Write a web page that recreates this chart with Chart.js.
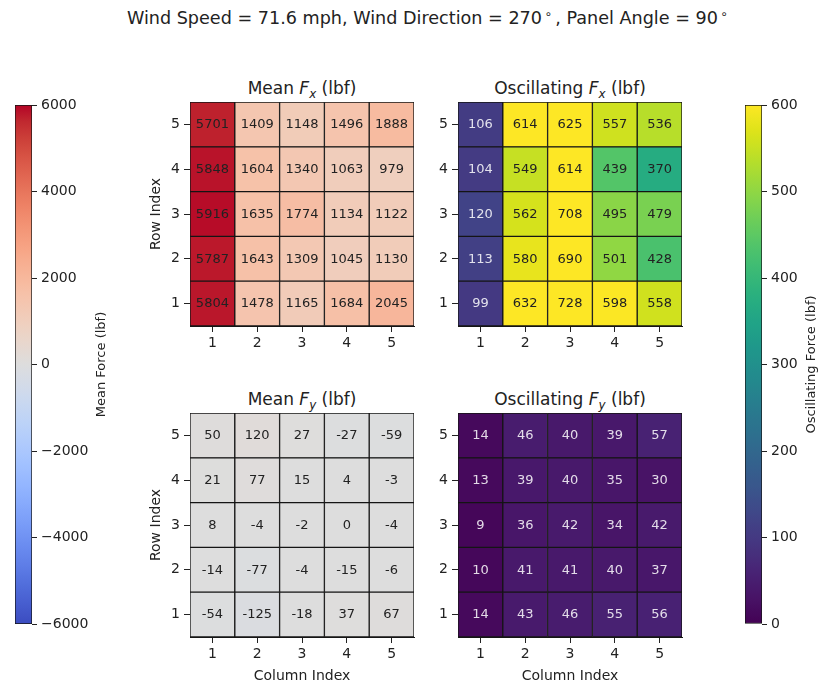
<!DOCTYPE html>
<html><head><meta charset="utf-8">
<script src="https://cdn.jsdelivr.net/npm/chart.js@4.4.1/dist/chart.umd.min.js"></script>
<style>
html,body{margin:0;padding:0;background:#fff;width:819px;height:682px;overflow:hidden;font-family:'DejaVu Sans',sans-serif;color:#222}
canvas{position:absolute}
.t{position:absolute;white-space:nowrap;transform:translateX(-50%);line-height:20px}
.it{font-style:italic}
.sub{font-size:0.7em;font-style:italic;position:relative;top:0.3em}
.sup{font-size:0.7em;position:relative;top:-0.45em;margin:0 0.25em 0 0.2em}
</style></head><body>
<div class="t" style="left:429px;top:8px;font-size:17.6px">Wind Speed = 71.6 mph, Wind Direction = 270<span class="sup">∘</span>, Panel Angle = 90<span class="sup">∘</span></div>
<div class="t" style="left:302px;top:78px;font-size:17px">Mean <span class="it">F</span><span class="sub">x</span> (lbf)</div>
<div class="t" style="left:570px;top:78px;font-size:17px">Oscillating <span class="it">F</span><span class="sub">x</span> (lbf)</div>
<div class="t" style="left:302px;top:389px;font-size:17px">Mean <span class="it">F</span><span class="sub">y</span> (lbf)</div>
<div class="t" style="left:570px;top:389px;font-size:17px">Oscillating <span class="it">F</span><span class="sub">y</span> (lbf)</div>
<script>
// ---------- data (rows listed from Row Index 1 to 5, columns 1..5) ----------
const columnLabels = ['1', '2', '3', '4', '5'];
const rowIndex = [1, 2, 3, 4, 5];
const meanFx = [
  [5804, 1478, 1165, 1684, 2045],
  [5787, 1643, 1309, 1045, 1130],
  [5916, 1635, 1774, 1134, 1122],
  [5848, 1604, 1340, 1063, 979],
  [5701, 1409, 1148, 1496, 1888]
];
const oscFx = [
  [99, 632, 728, 598, 558],
  [113, 580, 690, 501, 428],
  [120, 562, 708, 495, 479],
  [104, 549, 614, 439, 370],
  [106, 614, 625, 557, 536]
];
const meanFy = [
  [-54, -125, -18, 37, 67],
  [-14, -77, -4, -15, -6],
  [8, -4, -2, 0, -4],
  [21, 77, 15, 4, -3],
  [50, 120, 27, -27, -59]
];
const oscFy = [
  [14, 43, 46, 55, 56],
  [10, 41, 41, 40, 37],
  [9, 36, 42, 34, 42],
  [13, 39, 40, 35, 30],
  [14, 46, 40, 39, 57]
];
const meanRange = [-6000, 6000];
const meanTickStep = 2000;
const oscRange = [0, 600];
const oscTickStep = 100;

// ---------- colormaps ----------
const coolwarmStops = [
  [59,76,192],[68,90,204],[77,104,215],[87,117,225],[98,130,234],[108,142,241],[119,154,247],[130,165,251],
  [141,176,254],[152,185,255],[163,194,255],[174,201,253],[184,208,249],[194,213,244],[204,217,238],[213,219,230],
  [221,221,221],[229,216,209],[236,211,197],[241,204,185],[245,196,173],[247,187,160],[247,177,148],[247,166,135],
  [244,154,123],[241,141,111],[236,127,99],[229,112,88],[222,96,77],[213,80,66],[203,62,56],[192,40,47],[180,4,38]
];
const viridisHex = ['#440154','#481467','#482576','#453781','#404688','#39568c','#33638d','#2d708e','#287d8e','#238a8d',
  '#1f968b','#20a387','#29af7f','#3cbb75','#55c667','#73d055','#95d840','#b8de29','#dce319','#fde725'];
const viridisStops = viridisHex.map(h => [parseInt(h.slice(1,3),16), parseInt(h.slice(3,5),16), parseInt(h.slice(5,7),16)]);
function interp(stops, t) {
  t = Math.max(0, Math.min(1, t));
  const n = stops.length - 1, p = t * n;
  const i = Math.min(Math.floor(p), n - 1), f = p - i;
  const a = stops[i], b = stops[i + 1];
  return 'rgb(' + a.map((v, k) => Math.round(v + (b[k] - v) * f)).join(',') + ')';
}
const coolwarm = t => interp(coolwarmStops, t);
const viridis = t => interp(viridisStops, t);

Chart.defaults.font.family = "'DejaVu Sans', sans-serif";
Chart.defaults.color = '#222';

const TXT = '#222';
const PADT = 16;

function addCanvas(left, top, w, h) {
  const c = document.createElement('canvas');
  c.width = w; c.height = h;
  c.style.left = left + 'px'; c.style.top = top + 'px';
  c.style.width = w + 'px'; c.style.height = h + 'px';
  document.body.appendChild(c);
  return c;
}

const valueLabels = {
  id: 'valueLabels',
  afterDatasetsDraw(chart, args, opts) {
    const ctx = chart.ctx;
    ctx.save();
    ctx.font = "13px 'DejaVu Sans', sans-serif";
    ctx.textAlign = 'center';
    ctx.textBaseline = 'middle';
    chart.data.datasets.forEach((ds, di) => {
      const meta = chart.getDatasetMeta(di);
      meta.data.forEach((el, ci) => {
        const v = ds.values[ci];
        ctx.fillStyle = opts.textColor(v);
        ctx.fillText(String(v), el.x, (el.y + el.base) / 2 + 0.5);
      });
    });
    ctx.restore();
  }
};

function heatmap(L, T, values, cmap, range, textColor, showY, showX) {
  const W = 292, H = PADT + 224 + 52;
  const canvas = addCanvas(L - 60, T - PADT, W, H);
  const norm = v => (v - range[0]) / (range[1] - range[0]);
  const datasets = rowIndex.map((r, ri) => ({
    data: values[ri].map(() => [r - 0.5, r + 0.5]),
    values: values[ri],
    backgroundColor: values[ri].map(v => cmap(norm(v))),
    borderColor: '#151515',
    borderWidth: 1,
    borderSkipped: false,
    barPercentage: 1,
    categoryPercentage: 1,
    grouped: false
  }));
  new Chart(canvas, {
    type: 'bar',
    data: { labels: columnLabels, datasets },
    options: {
      responsive: false, animation: false, events: [],
      layout: { padding: { left: 0, top: PADT, right: 8, bottom: 0 } },
      plugins: { legend: { display: false }, tooltip: { enabled: false }, valueLabels: { textColor } },
      scales: {
        x: {
          type: 'category', offset: true,
          grid: { display: true, drawOnChartArea: false, drawTicks: true, tickLength: 6, tickColor: TXT, offset: false },
          border: { display: true, color: '#151515', width: 1 },
          ticks: { font: { size: 14 }, color: TXT, padding: 3 },
          title: { display: showX, text: 'Column Index', font: { size: 14 }, color: TXT, padding: { top: 0, bottom: 4 } },
          afterFit: s => { s.height = 52; }
        },
        y: {
          type: 'linear', min: 0.5, max: 5.5,
          afterBuildTicks: s => { s.ticks = rowIndex.map(v => ({ value: v })); },
          grid: { display: true, drawOnChartArea: false, drawTicks: true, tickLength: 6, tickColor: TXT },
          border: { display: true, color: '#151515', width: 1 },
          ticks: { font: { size: 14 }, color: TXT, padding: 4 },
          title: { display: showY, text: 'Row Index', font: { size: 14 }, color: TXT, padding: { top: 18, bottom: 0 } },
          afterFit: s => { s.width = 60; }
        }
      }
    },
    plugins: [valueLabels]
  });
}

const darkText = () => '#222';
const viridisText = v => (v < 300 ? 'rgba(255,255,255,0.85)' : '#222');

heatmap(190, 102, meanFx, coolwarm, meanRange, darkText, true, false);
heatmap(458, 102, oscFx, viridis, oscRange, viridisText, false, false);
heatmap(190, 413, meanFy, coolwarm, meanRange, darkText, true, true);
heatmap(458, 413, oscFy, viridis, oscRange, viridisText, false, true);

function colorbar(left, width, range, step, cmap, label, labelX) {
  const barW = 17, padL = 15, top = 105, barH = 519;
  const H = PADT + barH + PADT;
  const canvas = addCanvas(left, top - PADT, width, H);
  const cbLabel = {
    id: 'cbLabel',
    afterDraw(chart) {
      const ctx = chart.ctx, ca = chart.chartArea;
      ctx.save();
      ctx.translate(labelX, (ca.top + ca.bottom) / 2);
      ctx.rotate(-Math.PI / 2);
      ctx.font = "13px 'DejaVu Sans', sans-serif";
      ctx.fillStyle = TXT;
      ctx.textAlign = 'center';
      ctx.textBaseline = 'middle';
      ctx.fillText(label, 0, 0);
      ctx.restore();
    }
  };
  new Chart(canvas, {
    type: 'bar',
    data: {
      labels: [label],
      datasets: [{
        data: [[range[0], range[1]]],
        backgroundColor: c => {
          const ca = c.chart.chartArea;
          if (!ca) return 'transparent';
          const g = c.chart.ctx.createLinearGradient(0, ca.bottom, 0, ca.top);
          for (let i = 0; i <= 64; i++) g.addColorStop(i / 64, cmap(i / 64));
          return g;
        },
        borderColor: '#151515', borderWidth: 1, borderSkipped: false,
        barPercentage: 1, categoryPercentage: 1
      }]
    },
    options: {
      responsive: false, animation: false, events: [],
      layout: { padding: { left: padL, top: PADT, right: 0, bottom: PADT } },
      plugins: { legend: { display: false }, tooltip: { enabled: false } },
      scales: {
        x: { display: false },
        y: {
          position: 'right', min: range[0], max: range[1],
          grid: { display: true, drawOnChartArea: false, drawTicks: true, tickLength: 5, tickColor: TXT },
          border: { display: false },
          ticks: { stepSize: step, font: { size: 14 }, color: TXT, padding: 4,
                   callback: v => String(v).replace('-', '\u2212') },
          afterFit: s => { s.width = width - padL - barW; }
        }
      }
    },
    plugins: [cbLabel]
  });
}

colorbar(0, 130, meanRange, meanTickStep, coolwarm, 'Mean Force (lbf)', 102);
colorbar(730, 89, oscRange, oscTickStep, viridis, 'Oscillating Force (lbf)', 81.5);
</script>
</body></html>
